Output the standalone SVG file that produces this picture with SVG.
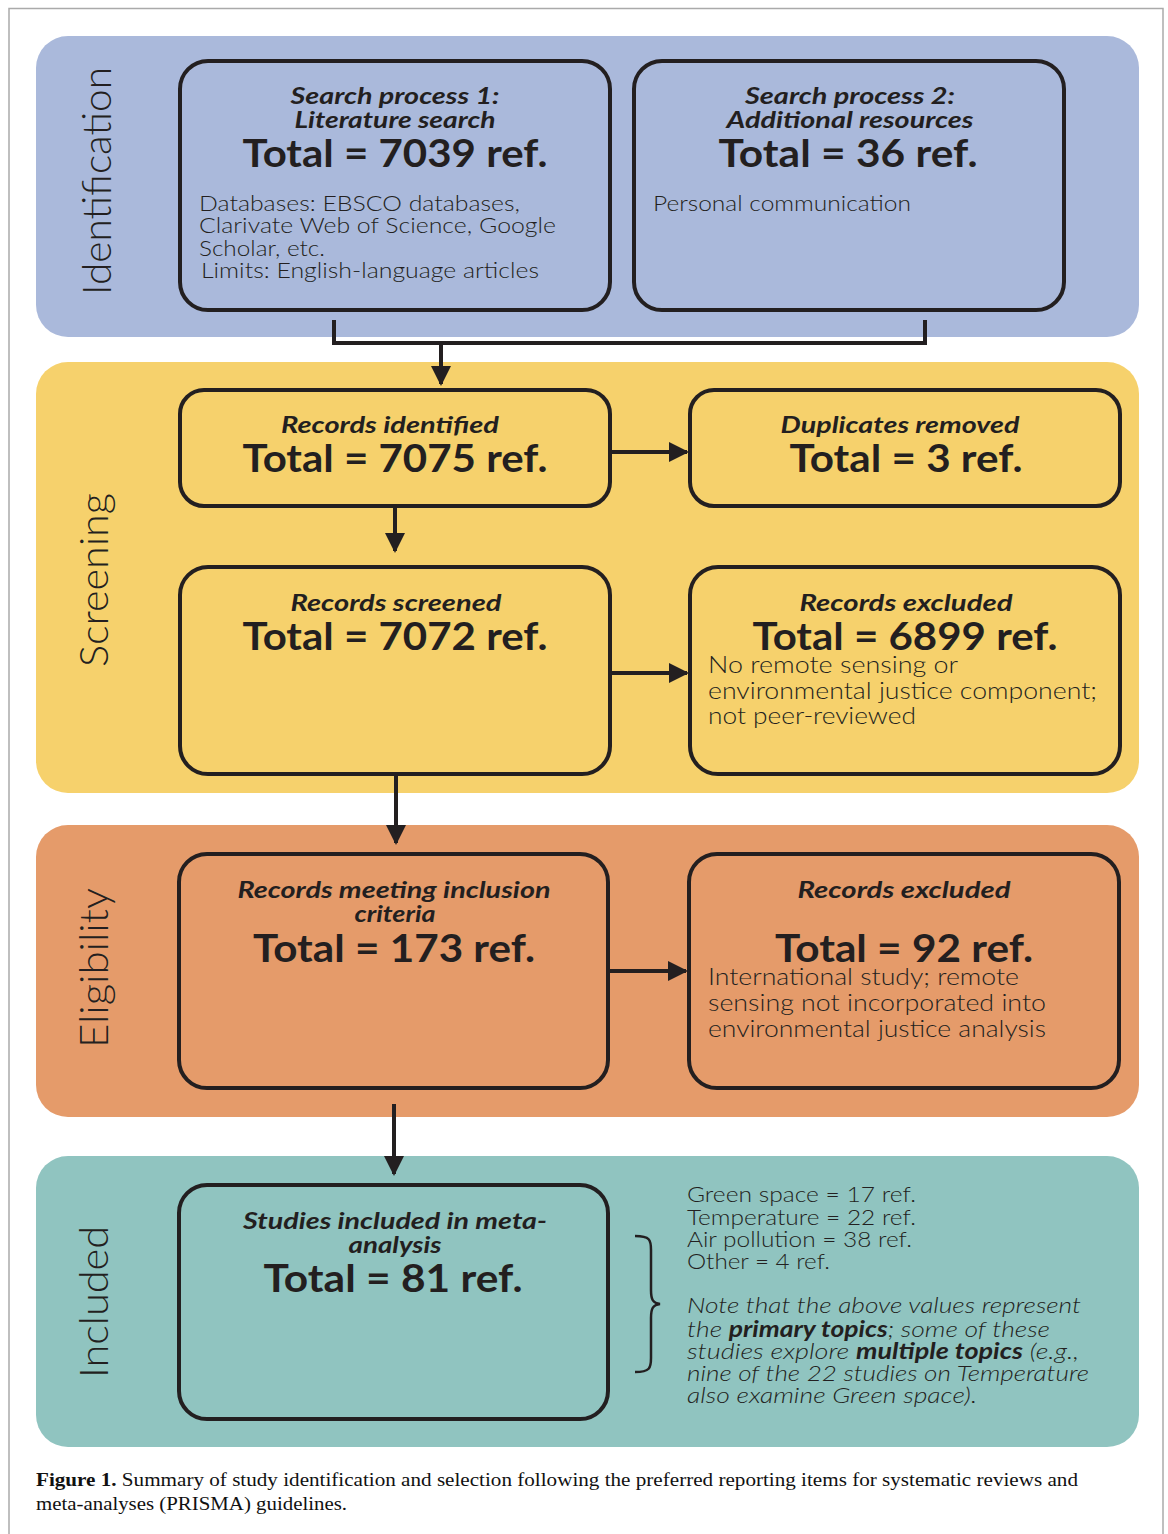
<svg xmlns="http://www.w3.org/2000/svg" width="1168" height="1534" viewBox="0 0 1168 1534">
<style>
.panel{stroke:none}
.box{fill:none;stroke:#231f20;stroke-width:4}
text{font-family:Lato,"Noto Sans",sans-serif;fill:#231f20}
.ttl{font-style:italic;font-weight:700;font-size:22px;text-anchor:middle}
.tot{font-weight:700;font-size:38px;text-anchor:middle}
.body{font-weight:300;font-size:22px}
.big{font-size:24px}
.it{font-style:italic}
.side{font-weight:300;font-size:40px;text-anchor:middle}
.conn{fill:none;stroke:#231f20;stroke-width:4}
.cap{font-family:"Liberation Serif",serif;font-size:19px;fill:#111}
</style>
<defs>
<marker id="ah" viewBox="0 0 10 10" refX="9" refY="5" markerWidth="5" markerHeight="5" orient="auto" markerUnits="strokeWidth">
<path d="M0,0 L10,5 L0,10 z" fill="#231f20"/>
</marker>
</defs>
<rect x="0" y="0" width="1168" height="1534" fill="#fff"/>
<rect x="9" y="8.5" width="1154" height="1530" fill="none" stroke="#aaa" stroke-width="1.5"/>

<g id="panel-identification">
<rect class="panel" x="36" y="36" width="1103" height="301" rx="32" fill="#aab9db"/>
<text class="side" transform="translate(111,181) rotate(-90)" textLength="228" lengthAdjust="spacingAndGlyphs">Identification</text>
</g>
<g id="panel-screening">
<rect class="panel" x="36" y="362" width="1103" height="431" rx="32" fill="#f6d16c"/>
<text class="side" transform="translate(108,580) rotate(-90)" textLength="174" lengthAdjust="spacingAndGlyphs">Screening</text>
</g>
<g id="panel-eligibility">
<rect class="panel" x="36" y="825" width="1103" height="292" rx="32" fill="#e59b6a"/>
<text class="side" transform="translate(108,968) rotate(-90)" textLength="160" lengthAdjust="spacingAndGlyphs">Eligibility</text>
</g>
<g id="panel-included">
<rect class="panel" x="36" y="1156" width="1103" height="291" rx="32" fill="#90c4c0"/>
<text class="side" transform="translate(108,1302) rotate(-90)" textLength="152" lengthAdjust="spacingAndGlyphs">Included</text>
</g>

<g id="sp1">
<rect class="box" x="180" y="61" width="430" height="249" rx="28"/>
<text class="ttl" x="395" y="104" textLength="209" lengthAdjust="spacingAndGlyphs">Search process 1:</text>
<text class="ttl" x="395" y="128" textLength="201" lengthAdjust="spacingAndGlyphs">Literature search</text>
<text class="tot" x="395" y="167" textLength="305" lengthAdjust="spacingAndGlyphs">Total = 7039 ref.</text>
<text class="body" x="199" y="211" textLength="321" lengthAdjust="spacingAndGlyphs">Databases: EBSCO databases,</text>
<text class="body" x="199" y="233" textLength="357" lengthAdjust="spacingAndGlyphs">Clarivate Web of Science, Google</text>
<text class="body" x="199" y="256" textLength="126" lengthAdjust="spacingAndGlyphs">Scholar, etc.</text>
<text class="body" x="201" y="278" textLength="338" lengthAdjust="spacingAndGlyphs">Limits: English-language articles</text>
</g>
<g id="sp2">
<rect class="box" x="634" y="61" width="430" height="249" rx="28"/>
<text class="ttl" x="850" y="104" textLength="210" lengthAdjust="spacingAndGlyphs">Search process 2:</text>
<text class="ttl" x="850" y="128" textLength="247" lengthAdjust="spacingAndGlyphs">Additional resources</text>
<text class="tot" x="848" y="167" textLength="259" lengthAdjust="spacingAndGlyphs">Total = 36 ref.</text>
<text class="body" x="653" y="211" textLength="258" lengthAdjust="spacingAndGlyphs">Personal communication</text>
</g>

<g id="identified">
<rect class="box" x="180" y="390" width="430" height="116" rx="24"/>
<text class="ttl" x="390" y="433" textLength="218" lengthAdjust="spacingAndGlyphs">Records identified</text>
<text class="tot" x="395" y="472" textLength="305" lengthAdjust="spacingAndGlyphs">Total = 7075 ref.</text>
</g>
<g id="duplicates">
<rect class="box" x="690" y="390" width="430" height="116" rx="24"/>
<text class="ttl" x="900" y="433" textLength="239" lengthAdjust="spacingAndGlyphs">Duplicates removed</text>
<text class="tot" x="906" y="472" textLength="233" lengthAdjust="spacingAndGlyphs">Total = 3 ref.</text>
</g>
<g id="screened">
<rect class="box" x="180" y="567" width="430" height="207" rx="28"/>
<text class="ttl" x="396" y="611" textLength="211" lengthAdjust="spacingAndGlyphs">Records screened</text>
<text class="tot" x="395" y="650" textLength="305" lengthAdjust="spacingAndGlyphs">Total = 7072 ref.</text>
</g>
<g id="excluded1">
<rect class="box" x="690" y="567" width="430" height="207" rx="28"/>
<text class="ttl" x="906" y="611" textLength="213" lengthAdjust="spacingAndGlyphs">Records excluded</text>
<text class="tot" x="905" y="650" textLength="305" lengthAdjust="spacingAndGlyphs">Total = 6899 ref.</text>
<text class="body big" x="708" y="673" textLength="250" lengthAdjust="spacingAndGlyphs">No remote sensing or</text>
<text class="body big" x="708" y="699" textLength="389" lengthAdjust="spacingAndGlyphs">environmental justice component;</text>
<text class="body big" x="708" y="724" textLength="208" lengthAdjust="spacingAndGlyphs">not peer-reviewed</text>
</g>
<g id="meeting">
<rect class="box" x="179" y="854" width="429" height="234" rx="28"/>
<text class="ttl" x="394" y="898" textLength="313" lengthAdjust="spacingAndGlyphs">Records meeting inclusion</text>
<text class="ttl" x="395" y="922" textLength="81" lengthAdjust="spacingAndGlyphs">criteria</text>
<text class="tot" x="394" y="962" textLength="282" lengthAdjust="spacingAndGlyphs">Total = 173 ref.</text>
</g>
<g id="excluded2">
<rect class="box" x="689" y="854" width="430" height="234" rx="28"/>
<text class="ttl" x="904" y="898" textLength="213" lengthAdjust="spacingAndGlyphs">Records excluded</text>
<text class="tot" x="904" y="962" textLength="258" lengthAdjust="spacingAndGlyphs">Total = 92 ref.</text>
<text class="body big" x="708" y="985" textLength="311" lengthAdjust="spacingAndGlyphs">International study; remote</text>
<text class="body big" x="708" y="1011" textLength="338" lengthAdjust="spacingAndGlyphs">sensing not incorporated into</text>
<text class="body big" x="708" y="1037" textLength="338" lengthAdjust="spacingAndGlyphs">environmental justice analysis</text>
</g>
<g id="included">
<rect class="box" x="179" y="1185" width="429" height="234" rx="28"/>
<text class="ttl" x="395" y="1229" textLength="304" lengthAdjust="spacingAndGlyphs">Studies included in meta-</text>
<text class="ttl" x="395" y="1253" textLength="93" lengthAdjust="spacingAndGlyphs">analysis</text>
<text class="tot" x="393" y="1292" textLength="259" lengthAdjust="spacingAndGlyphs">Total = 81 ref.</text>
</g>
<g id="topics">
<path d="M635,1236 C650,1236 651,1240 651,1250 L651,1290 C651,1300 653,1303 660,1304 C653,1305 651,1308 651,1318 L651,1358 C651,1368 650,1372 635,1372" fill="none" stroke="#231f20" stroke-width="2.5"/>
<text class="body" x="687" y="1202" textLength="229" lengthAdjust="spacingAndGlyphs">Green space = 17 ref.</text>
<text class="body" x="687" y="1225" textLength="229" lengthAdjust="spacingAndGlyphs">Temperature = 22 ref.</text>
<text class="body" x="687" y="1247" textLength="225" lengthAdjust="spacingAndGlyphs">Air pollution = 38 ref.</text>
<text class="body" x="687" y="1269" textLength="143" lengthAdjust="spacingAndGlyphs">Other = 4 ref.</text>
<text class="body it" x="687" y="1313" textLength="394" lengthAdjust="spacingAndGlyphs">Note that the above values represent</text>
<text class="body it" x="687" y="1337" textLength="363" lengthAdjust="spacingAndGlyphs">the <tspan font-weight="700">primary topics</tspan>; some of these</text>
<text class="body it" x="687" y="1359" textLength="392" lengthAdjust="spacingAndGlyphs">studies explore <tspan font-weight="700">multiple topics</tspan> (e.g.,</text>
<text class="body it" x="687" y="1381" textLength="402" lengthAdjust="spacingAndGlyphs">nine of the 22 studies on Temperature</text>
<text class="body it" x="687" y="1403" textLength="290" lengthAdjust="spacingAndGlyphs">also examine Green space).</text>
</g>

<g id="connectors">
<path class="conn" d="M334,320 V343 H925 V320"/>
<path class="conn" d="M441,343 V384" marker-end="url(#ah)"/>
<path class="conn" d="M610,452 H687" marker-end="url(#ah)"/>
<path class="conn" d="M395,506 V551" marker-end="url(#ah)"/>
<path class="conn" d="M610,673 H687" marker-end="url(#ah)"/>
<path class="conn" d="M396,774 V843" marker-end="url(#ah)"/>
<path class="conn" d="M608,971 H686" marker-end="url(#ah)"/>
<path class="conn" d="M394,1104 V1174" marker-end="url(#ah)"/>
</g>

<g id="caption">
<text class="cap" x="36" y="1486" textLength="1042" lengthAdjust="spacingAndGlyphs"><tspan font-weight="700">Figure 1.</tspan> Summary of study identification and selection following the preferred reporting items for systematic reviews and</text>
<text class="cap" x="36" y="1510" textLength="311" lengthAdjust="spacingAndGlyphs">meta-analyses (PRISMA) guidelines.</text>
</g>
</svg>
